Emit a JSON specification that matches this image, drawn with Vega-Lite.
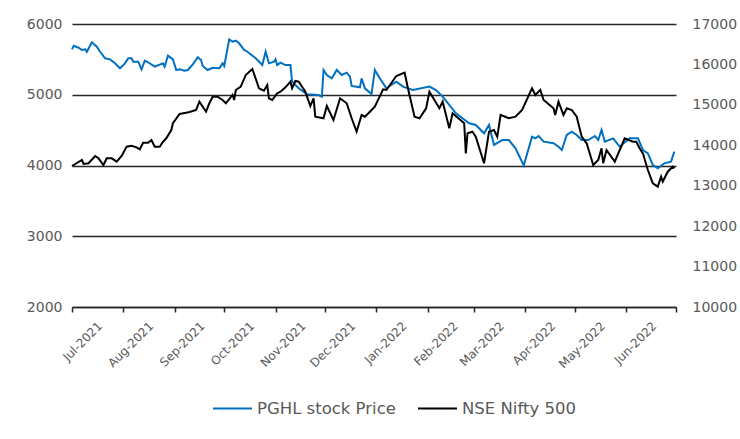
{
  "$schema": "https://vega.github.io/schema/vega-lite/v6.json",
  "width": 604,
  "height": 283,
  "autosize": "none",
  "padding": {"left": 72, "top": 24, "right": 64, "bottom": 132},
  "background": "white",
  "config": {"view": {"stroke": null}, "font": "DejaVu Sans"},
  "datasets": {
    "pghl": [
      {"date": "2021-07-01", "value": 5642}, {"date": "2021-07-02", "value": 5693}, {"date": "2021-07-05", "value": 5665},
      {"date": "2021-07-07", "value": 5633}, {"date": "2021-07-09", "value": 5642}, {"date": "2021-07-10", "value": 5608},
      {"date": "2021-07-13", "value": 5741}, {"date": "2021-07-16", "value": 5680}, {"date": "2021-07-18", "value": 5608},
      {"date": "2021-07-21", "value": 5515}, {"date": "2021-07-24", "value": 5500}, {"date": "2021-07-27", "value": 5444},
      {"date": "2021-07-30", "value": 5374}, {"date": "2021-08-02", "value": 5444}, {"date": "2021-08-04", "value": 5515},
      {"date": "2021-08-06", "value": 5515}, {"date": "2021-08-07", "value": 5467}, {"date": "2021-08-10", "value": 5467},
      {"date": "2021-08-12", "value": 5360}, {"date": "2021-08-14", "value": 5481}, {"date": "2021-08-16", "value": 5459},
      {"date": "2021-08-20", "value": 5397}, {"date": "2021-08-25", "value": 5444}, {"date": "2021-08-26", "value": 5397},
      {"date": "2021-08-28", "value": 5552}, {"date": "2021-08-31", "value": 5500}, {"date": "2021-09-02", "value": 5350},
      {"date": "2021-09-04", "value": 5360}, {"date": "2021-09-07", "value": 5340}, {"date": "2021-09-09", "value": 5350},
      {"date": "2021-09-12", "value": 5430}, {"date": "2021-09-15", "value": 5530}, {"date": "2021-09-17", "value": 5491},
      {"date": "2021-09-18", "value": 5406}, {"date": "2021-09-21", "value": 5350}, {"date": "2021-09-24", "value": 5382},
      {"date": "2021-09-28", "value": 5374}, {"date": "2021-09-30", "value": 5444}, {"date": "2021-10-01", "value": 5406},
      {"date": "2021-10-04", "value": 5783}, {"date": "2021-10-06", "value": 5750}, {"date": "2021-10-08", "value": 5764},
      {"date": "2021-10-10", "value": 5727}, {"date": "2021-10-13", "value": 5633}, {"date": "2021-10-15", "value": 5608},
      {"date": "2021-10-20", "value": 5515}, {"date": "2021-10-24", "value": 5420}, {"date": "2021-10-26", "value": 5608},
      {"date": "2021-10-28", "value": 5444}, {"date": "2021-10-31", "value": 5467}, {"date": "2021-11-01", "value": 5500},
      {"date": "2021-11-02", "value": 5420}, {"date": "2021-11-04", "value": 5453}, {"date": "2021-11-07", "value": 5420},
      {"date": "2021-11-10", "value": 5420}, {"date": "2021-11-11", "value": 5185}, {"date": "2021-11-15", "value": 5091},
      {"date": "2021-11-20", "value": 5006}, {"date": "2021-11-27", "value": 4996}, {"date": "2021-11-29", "value": 4973},
      {"date": "2021-11-30", "value": 5350}, {"date": "2021-12-02", "value": 5279}, {"date": "2021-12-05", "value": 5232},
      {"date": "2021-12-08", "value": 5350}, {"date": "2021-12-11", "value": 5279}, {"date": "2021-12-14", "value": 5312},
      {"date": "2021-12-16", "value": 5255}, {"date": "2021-12-17", "value": 5124}, {"date": "2021-12-22", "value": 5105},
      {"date": "2021-12-23", "value": 5232}, {"date": "2021-12-25", "value": 5091}, {"date": "2021-12-29", "value": 5010},
      {"date": "2021-12-31", "value": 5350}, {"date": "2022-01-03", "value": 5232}, {"date": "2022-01-07", "value": 5091},
      {"date": "2022-01-09", "value": 5124}, {"date": "2022-01-13", "value": 5185}, {"date": "2022-01-17", "value": 5115},
      {"date": "2022-01-23", "value": 5067}, {"date": "2022-02-02", "value": 5115}, {"date": "2022-02-06", "value": 5067},
      {"date": "2022-02-10", "value": 4973}, {"date": "2022-02-18", "value": 4738}, {"date": "2022-02-26", "value": 4597},
      {"date": "2022-03-02", "value": 4573}, {"date": "2022-03-07", "value": 4455}, {"date": "2022-03-10", "value": 4573},
      {"date": "2022-03-13", "value": 4290}, {"date": "2022-03-18", "value": 4360}, {"date": "2022-03-22", "value": 4360},
      {"date": "2022-03-26", "value": 4243}, {"date": "2022-03-31", "value": 4000}, {"date": "2022-04-05", "value": 4407},
      {"date": "2022-04-07", "value": 4384}, {"date": "2022-04-09", "value": 4417}, {"date": "2022-04-12", "value": 4337},
      {"date": "2022-04-18", "value": 4314}, {"date": "2022-04-21", "value": 4266}, {"date": "2022-04-23", "value": 4219},
      {"date": "2022-04-26", "value": 4431}, {"date": "2022-04-29", "value": 4478}, {"date": "2022-05-02", "value": 4431},
      {"date": "2022-05-05", "value": 4360}, {"date": "2022-05-09", "value": 4360}, {"date": "2022-05-13", "value": 4417},
      {"date": "2022-05-15", "value": 4360}, {"date": "2022-05-17", "value": 4502}, {"date": "2022-05-19", "value": 4337},
      {"date": "2022-05-24", "value": 4384}, {"date": "2022-05-28", "value": 4266}, {"date": "2022-06-03", "value": 4384},
      {"date": "2022-06-08", "value": 4384}, {"date": "2022-06-11", "value": 4219}, {"date": "2022-06-14", "value": 4172},
      {"date": "2022-06-17", "value": 4007}, {"date": "2022-06-20", "value": 3960}, {"date": "2022-06-24", "value": 4031},
      {"date": "2022-06-28", "value": 4054}, {"date": "2022-06-30", "value": 4196}
    ],
    "nifty": [
      {"date": "2021-07-01", "value": 13488}, {"date": "2021-07-07", "value": 13636}, {"date": "2021-07-08", "value": 13537},
      {"date": "2021-07-11", "value": 13555}, {"date": "2021-07-15", "value": 13735}, {"date": "2021-07-17", "value": 13678},
      {"date": "2021-07-20", "value": 13512}, {"date": "2021-07-22", "value": 13678}, {"date": "2021-07-25", "value": 13678},
      {"date": "2021-07-28", "value": 13594}, {"date": "2021-07-31", "value": 13735}, {"date": "2021-08-03", "value": 13965},
      {"date": "2021-08-06", "value": 13990}, {"date": "2021-08-09", "value": 13950}, {"date": "2021-08-11", "value": 13901},
      {"date": "2021-08-13", "value": 14064}, {"date": "2021-08-16", "value": 14064}, {"date": "2021-08-18", "value": 14131},
      {"date": "2021-08-20", "value": 13965}, {"date": "2021-08-23", "value": 13965}, {"date": "2021-08-25", "value": 14089},
      {"date": "2021-08-27", "value": 14173}, {"date": "2021-08-30", "value": 14378}, {"date": "2021-08-31", "value": 14544},
      {"date": "2021-09-04", "value": 14774}, {"date": "2021-09-08", "value": 14807}, {"date": "2021-09-10", "value": 14824},
      {"date": "2021-09-14", "value": 14873}, {"date": "2021-09-16", "value": 15078}, {"date": "2021-09-20", "value": 14831},
      {"date": "2021-09-22", "value": 15039}, {"date": "2021-09-24", "value": 15202}, {"date": "2021-09-27", "value": 15202},
      {"date": "2021-09-30", "value": 15120}, {"date": "2021-10-02", "value": 15039}, {"date": "2021-10-06", "value": 15244},
      {"date": "2021-10-07", "value": 15120}, {"date": "2021-10-08", "value": 15368}, {"date": "2021-10-11", "value": 15450},
      {"date": "2021-10-14", "value": 15739}, {"date": "2021-10-18", "value": 15887}, {"date": "2021-10-22", "value": 15410},
      {"date": "2021-10-25", "value": 15350}, {"date": "2021-10-27", "value": 15491}, {"date": "2021-10-28", "value": 15162},
      {"date": "2021-10-30", "value": 15120}, {"date": "2021-11-02", "value": 15286}, {"date": "2021-11-04", "value": 15326},
      {"date": "2021-11-07", "value": 15434}, {"date": "2021-11-10", "value": 15573}, {"date": "2021-11-11", "value": 15410},
      {"date": "2021-11-13", "value": 15590}, {"date": "2021-11-15", "value": 15573}, {"date": "2021-11-19", "value": 15326},
      {"date": "2021-11-22", "value": 14972}, {"date": "2021-11-24", "value": 15162}, {"date": "2021-11-25", "value": 14707},
      {"date": "2021-11-30", "value": 14668}, {"date": "2021-12-02", "value": 14972}, {"date": "2021-12-06", "value": 14626},
      {"date": "2021-12-10", "value": 15162}, {"date": "2021-12-14", "value": 15039}, {"date": "2021-12-17", "value": 14668},
      {"date": "2021-12-20", "value": 14336}, {"date": "2021-12-23", "value": 14749}, {"date": "2021-12-25", "value": 14707},
      {"date": "2021-12-28", "value": 14831}, {"date": "2021-12-31", "value": 14955}, {"date": "2022-01-05", "value": 15385},
      {"date": "2022-01-07", "value": 15368}, {"date": "2022-01-13", "value": 15714}, {"date": "2022-01-18", "value": 15796},
      {"date": "2022-01-20", "value": 15410}, {"date": "2022-01-24", "value": 14707}, {"date": "2022-01-27", "value": 14668},
      {"date": "2022-01-31", "value": 14915}, {"date": "2022-02-02", "value": 15326}, {"date": "2022-02-08", "value": 14915},
      {"date": "2022-02-10", "value": 15078}, {"date": "2022-02-14", "value": 14420}, {"date": "2022-02-16", "value": 14791},
      {"date": "2022-02-23", "value": 14544}, {"date": "2022-02-24", "value": 13801}, {"date": "2022-02-25", "value": 14296},
      {"date": "2022-02-28", "value": 14336}, {"date": "2022-03-02", "value": 14213}, {"date": "2022-03-07", "value": 13555},
      {"date": "2022-03-10", "value": 14336}, {"date": "2022-03-13", "value": 14378}, {"date": "2022-03-15", "value": 14213},
      {"date": "2022-03-17", "value": 14749}, {"date": "2022-03-22", "value": 14668}, {"date": "2022-03-26", "value": 14707},
      {"date": "2022-03-30", "value": 14873}, {"date": "2022-04-05", "value": 15410}, {"date": "2022-04-07", "value": 15244},
      {"date": "2022-04-10", "value": 15368}, {"date": "2022-04-12", "value": 15120}, {"date": "2022-04-18", "value": 14915},
      {"date": "2022-04-19", "value": 14749}, {"date": "2022-04-21", "value": 15078}, {"date": "2022-04-24", "value": 14749},
      {"date": "2022-04-26", "value": 14915}, {"date": "2022-04-29", "value": 14873}, {"date": "2022-05-02", "value": 14707},
      {"date": "2022-05-05", "value": 14213}, {"date": "2022-05-08", "value": 14049}, {"date": "2022-05-12", "value": 13512},
      {"date": "2022-05-15", "value": 13636}, {"date": "2022-05-17", "value": 13925}, {"date": "2022-05-18", "value": 13555},
      {"date": "2022-05-20", "value": 13883}, {"date": "2022-05-25", "value": 13594}, {"date": "2022-05-31", "value": 14173},
      {"date": "2022-06-05", "value": 14089}, {"date": "2022-06-07", "value": 14089}, {"date": "2022-06-09", "value": 13925},
      {"date": "2022-06-11", "value": 13801}, {"date": "2022-06-14", "value": 13389}, {"date": "2022-06-17", "value": 13060},
      {"date": "2022-06-20", "value": 12976}, {"date": "2022-06-22", "value": 13223}, {"date": "2022-06-23", "value": 13100},
      {"date": "2022-06-26", "value": 13347}, {"date": "2022-06-29", "value": 13471}, {"date": "2022-06-30", "value": 13430}
    ]
  },
  "layer": [
    {
      "data": {"name": "pghl"},
      "mark": {"type": "line", "strokeWidth": 2, "interpolate": "linear"},
      "encoding": {
        "x": {
          "field": "date", "type": "temporal",
          "scale": {"type": "utc", "domain": [{"year": 2021, "month": 7, "date": 1, "utc": true}, {"year": 2022, "month": 7, "date": 1, "utc": true}]},
          "axis": {
            "title": null,
            "values": [
              {"year": 2021, "month": 7, "date": 1, "utc": true}, {"year": 2021, "month": 8, "date": 1, "utc": true},
              {"year": 2021, "month": 9, "date": 1, "utc": true}, {"year": 2021, "month": 10, "date": 1, "utc": true},
              {"year": 2021, "month": 11, "date": 1, "utc": true}, {"year": 2021, "month": 12, "date": 1, "utc": true},
              {"year": 2022, "month": 1, "date": 1, "utc": true}, {"year": 2022, "month": 2, "date": 1, "utc": true},
              {"year": 2022, "month": 3, "date": 1, "utc": true}, {"year": 2022, "month": 4, "date": 1, "utc": true},
              {"year": 2022, "month": 5, "date": 1, "utc": true}, {"year": 2022, "month": 6, "date": 1, "utc": true},
              {"year": 2022, "month": 7, "date": 1, "utc": true}
            ],
            "labelExpr": "utcyear(datum.value) == 2022 && utcmonth(datum.value) == 6 ? '' : utcFormat(datum.value, '%b-%Y')",
            "labelAngle": -45,
            "labelAlign": "right",
            "labelBaseline": "top",
            "labelOffset": 24,
            "labelPadding": 8,
            "labelFontSize": 12,
            "labelColor": "#595959",
            "labelOverlap": false,
            "labelBound": false,
            "labelFlush": false,
            "grid": false,
            "domainColor": "#262626",
            "domainWidth": 1.5,
            "tickColor": "#262626",
            "tickWidth": 1.5,
            "tickSize": 5
          }
        },
        "y": {
          "field": "value", "type": "quantitative",
          "scale": {"domain": [2000, 6000], "nice": false, "zero": false},
          "axis": {
            "title": null,
            "values": [2000, 3000, 4000, 5000, 6000],
            "format": "d",
            "grid": true,
            "gridColor": "#262626",
            "gridWidth": 1.3,
            "domain": false,
            "ticks": false,
            "labelPadding": 10,
            "labelFontSize": 14,
            "labelColor": "#595959"
          }
        },
        "color": {
          "datum": "PGHL stock Price",
          "type": "nominal",
          "scale": {"domain": ["PGHL stock Price", "NSE Nifty 500"], "range": ["#0070C0", "#000000"]},
          "legend": {
            "title": null,
            "orient": "none",
            "legendX": 140,
            "legendY": 364,
            "direction": "horizontal",
            "symbolType": "stroke",
            "symbolSize": 1521,
            "symbolStrokeWidth": 2,
            "labelFontSize": 16.5,
            "labelColor": "#595959",
            "labelOffset": 4,
            "columnPadding": 18
          }
        }
      }
    },
    {
      "data": {"name": "nifty"},
      "mark": {"type": "line", "strokeWidth": 2, "interpolate": "linear"},
      "encoding": {
        "x": {
          "field": "date", "type": "temporal",
          "scale": {"type": "utc", "domain": [{"year": 2021, "month": 7, "date": 1, "utc": true}, {"year": 2022, "month": 7, "date": 1, "utc": true}]}
        },
        "y": {
          "field": "value", "type": "quantitative",
          "scale": {"domain": [10000, 17000], "nice": false, "zero": false},
          "axis": {
            "title": null,
            "orient": "right",
            "values": [10000, 11000, 12000, 13000, 14000, 15000, 16000, 17000],
            "format": "d",
            "grid": false,
            "domain": false,
            "ticks": false,
            "labelPadding": 16,
            "labelFontSize": 14,
            "labelColor": "#595959"
          }
        },
        "color": {"datum": "NSE Nifty 500", "type": "nominal"}
      }
    }
  ],
  "resolve": {"scale": {"y": "independent"}}
}
